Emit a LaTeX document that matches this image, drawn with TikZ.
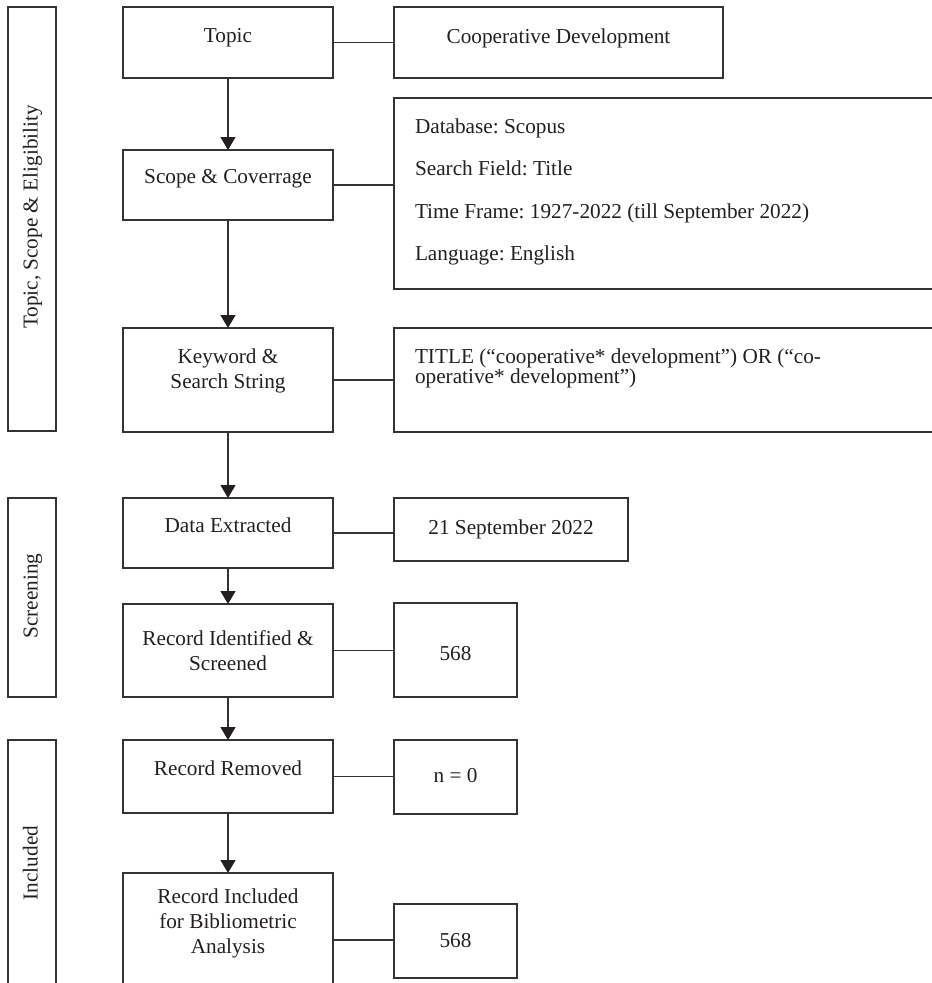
\documentclass[tikz,border=0pt]{standalone}
\usepackage{fontspec}
\setmainfont{Liberation Serif}
\usetikzlibrary{arrows.meta}
\definecolor{linec}{HTML}{333333}
\definecolor{txtc}{HTML}{231F20}
\tikzset{
  boxnode/.style={draw=linec, line width=1.3pt, rectangle, inner sep=0pt, outer sep=0pt},
  txt/.style={inner sep=0pt, outer sep=0pt, text=txtc, anchor=base},
  txtl/.style={inner sep=0pt, outer sep=0pt, text=txtc, anchor=base west},
  flow/.style={draw=linec, line width=1.3pt, -{Triangle[width=15pt,length=13pt,color=txtc]}},
  link/.style={draw=linec, line width=1.3pt}
}
\frenchspacing
\begin{document}
\frenchspacing
\begin{tikzpicture}[x=1pt,y=-1pt,font=\fontsize{21.25}{25}\selectfont]
\useasboundingbox (0,0) rectangle (932,983);
\clip (0,0) rectangle (932,983);
% phase boxes
\node[boxnode, minimum width=48pt, minimum height=424pt] (lab1) at (32,219) {};
\node[boxnode, minimum width=48pt, minimum height=199pt] (lab2) at (32,597.5) {};
\node[boxnode, minimum width=48pt, minimum height=270pt] (lab3) at (32,875) {};
\node[txt, rotate=90] (lab1t) at (37.5,217) {Topic, Scope \& Eligibility};
\node[txt, rotate=90] (lab2t) at (37.5,596) {Screening};
\node[txt, rotate=90] (lab3t) at (37.5,863) {Included};
% main boxes
\node[boxnode, minimum width=210pt, minimum height=71pt] (topic) at (228,42.5) {};
\node[boxnode, minimum width=210pt, minimum height=70pt] (scope) at (228,185) {};
\node[boxnode, minimum width=210pt, minimum height=104pt] (keyword) at (228,380) {};
\node[boxnode, minimum width=210pt, minimum height=70pt] (data) at (228,533) {};
\node[boxnode, minimum width=210pt, minimum height=93pt] (recid) at (228,650.5) {};
\node[boxnode, minimum width=210pt, minimum height=73pt] (removed) at (228,776.5) {};
\node[boxnode, minimum width=210pt, minimum height=134pt] (included) at (228,940) {};
\node[txt] (topict) at (228,42) {Topic};
\node[txt] (scopet) at (228,183) {Scope \& Coverrage};
\node[txt] (keywordt) at (228,363) {\begin{tabular}[t]{@{}c@{}}Keyword \&\\Search String\end{tabular}};
\node[txt] (datat) at (228,532) {Data Extracted};
\node[txt] (recidt) at (228,645) {\begin{tabular}[t]{@{}c@{}}Record Identified \&\\Screened\end{tabular}};
\node[txt] (removedt) at (228,775) {Record Removed};
\node[txt] (includedt) at (228,903) {\begin{tabular}[t]{@{}c@{}}Record Included\\for Bibliometric\\Analysis\end{tabular}};
% right boxes
\node[boxnode, minimum width=329pt, minimum height=71pt] (coop) at (558.5,42.5) {};
\node[boxnode, minimum width=566pt, minimum height=191pt] (db) at (677,193.5) {};
\node[boxnode, minimum width=566pt, minimum height=104pt] (title) at (677,380) {};
\node[boxnode, minimum width=234pt, minimum height=63pt] (date) at (511,529.5) {};
\node[boxnode, minimum width=123pt, minimum height=94pt] (numa) at (455.5,650) {};
\node[boxnode, minimum width=123pt, minimum height=74pt] (numz) at (455.5,777) {};
\node[boxnode, minimum width=123pt, minimum height=74pt] (numb) at (455.5,941) {};
\node[txt] (coopt) at (558.5,43) {Cooperative Development};
\node[txtl] (dbt) at (415,133) {\fontsize{21.25}{42.5}\selectfont\frenchspacing\begin{tabular}[t]{@{}l@{}}Database: Scopus\\Search Field: Title\\Time Frame: 1927-2022 (till September 2022)\\Language: English\end{tabular}};
\node[txtl] (titlet) at (415,363) {\fontsize{21.25}{20}\selectfont\begin{tabular}[t]{@{}l@{}}TITLE (“cooperative* development”) OR (“co-\\operative* development”)\end{tabular}};
\node[txt] (datet) at (511,534) {21 September 2022};
\node[txt] (numat) at (455.5,660) {568};
\node[txt] (numzt) at (455.5,782) {n = 0};
\node[txt] (numbt) at (455.5,947) {568};
% flow arrows
\draw[flow] (topic.south) -- (scope.north);
\draw[flow] (scope.south) -- (keyword.north);
\draw[flow] (keyword.south) -- (data.north);
\draw[flow] (data.south) -- (recid.north);
\draw[flow] (recid.south) -- (removed.north);
\draw[flow] (removed.south) -- (included.north);
% links
\draw[link] (topic.east) -- (coop.west);
\draw[link] (scope.east) -- (scope.east -| db.west);
\draw[link] (keyword.east) -- (title.west);
\draw[link] (data.east) -- (data.east -| date.west);
\draw[link] (recid.east) -- (recid.east -| numa.west);
\draw[link] (removed.east) -- (removed.east -| numz.west);
\draw[link] (included.east) -- (included.east -| numb.west);
\end{tikzpicture}
\end{document}
